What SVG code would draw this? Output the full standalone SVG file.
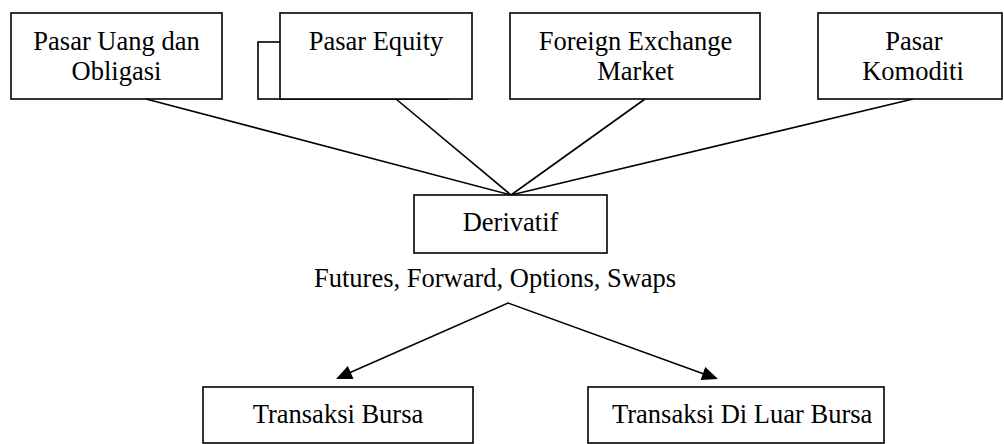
<svg xmlns="http://www.w3.org/2000/svg" width="1004" height="444" viewBox="0 0 1004 444">
<style>
.box{fill:#fff;stroke:#000;stroke-width:1.6}
.t{font-family:"Liberation Serif","Times New Roman",serif;font-size:26.5px;fill:#000;text-anchor:middle}
.c{stroke:#000;stroke-width:1.6;fill:none}
.ah{fill:#000}
</style>
<rect width="1004" height="444" fill="#fff"/>
<g id="connectors">
<line class="c" x1="146" y1="99" x2="511" y2="195"/>
<line class="c" x1="396" y1="99" x2="511" y2="195"/>
<line class="c" x1="645" y1="99" x2="511" y2="195"/>
<line class="c" x1="913" y1="99" x2="511" y2="195"/>
<polyline class="c" points="349,373 508,303 704,374"/>
<path class="ah" d="M336,379 L353.5,378.9 L347.8,366.1 z"/>
<path class="ah" d="M718,379 L700.6,380.1 L705.3,366.9 z"/>
</g>
<g id="pasar-uang">
<rect class="box" x="11" y="13" width="211" height="86"/>
<text class="t" x="116.5" y="50">Pasar Uang dan</text>
<text class="t" x="116.5" y="80">Obligasi</text>
</g>
<g id="pasar-equity">
<rect class="box" x="258" y="42" width="190" height="57"/>
<rect class="box" x="280" y="13" width="192" height="86"/>
<text class="t" x="376" y="50">Pasar Equity</text>
</g>
<g id="foreign-exchange">
<rect class="box" x="510" y="13" width="250" height="86"/>
<text class="t" x="635.5" y="50">Foreign Exchange</text>
<text class="t" x="635.5" y="80">Market</text>
</g>
<g id="pasar-komoditi">
<rect class="box" x="818" y="13" width="184" height="86"/>
<text class="t" x="914" y="50">Pasar</text>
<text class="t" x="913" y="80">Komoditi</text>
</g>
<g id="derivatif">
<rect class="box" x="414" y="195" width="193" height="58"/>
<text class="t" x="510.5" y="231">Derivatif</text>
</g>
<g id="instrumen">
<text class="t" x="314" y="287" style="text-anchor:start">Futures, Forward, Options, Swaps</text>
</g>
<g id="transaksi-bursa">
<rect class="box" x="203" y="387" width="270" height="56"/>
<text class="t" x="338" y="423">Transaksi Bursa</text>
</g>
<g id="transaksi-luar-bursa">
<rect class="box" x="588" y="387" width="296" height="56"/>
<text class="t" x="612" y="423" style="text-anchor:start">Transaksi Di Luar Bursa</text>
</g>
</svg>
